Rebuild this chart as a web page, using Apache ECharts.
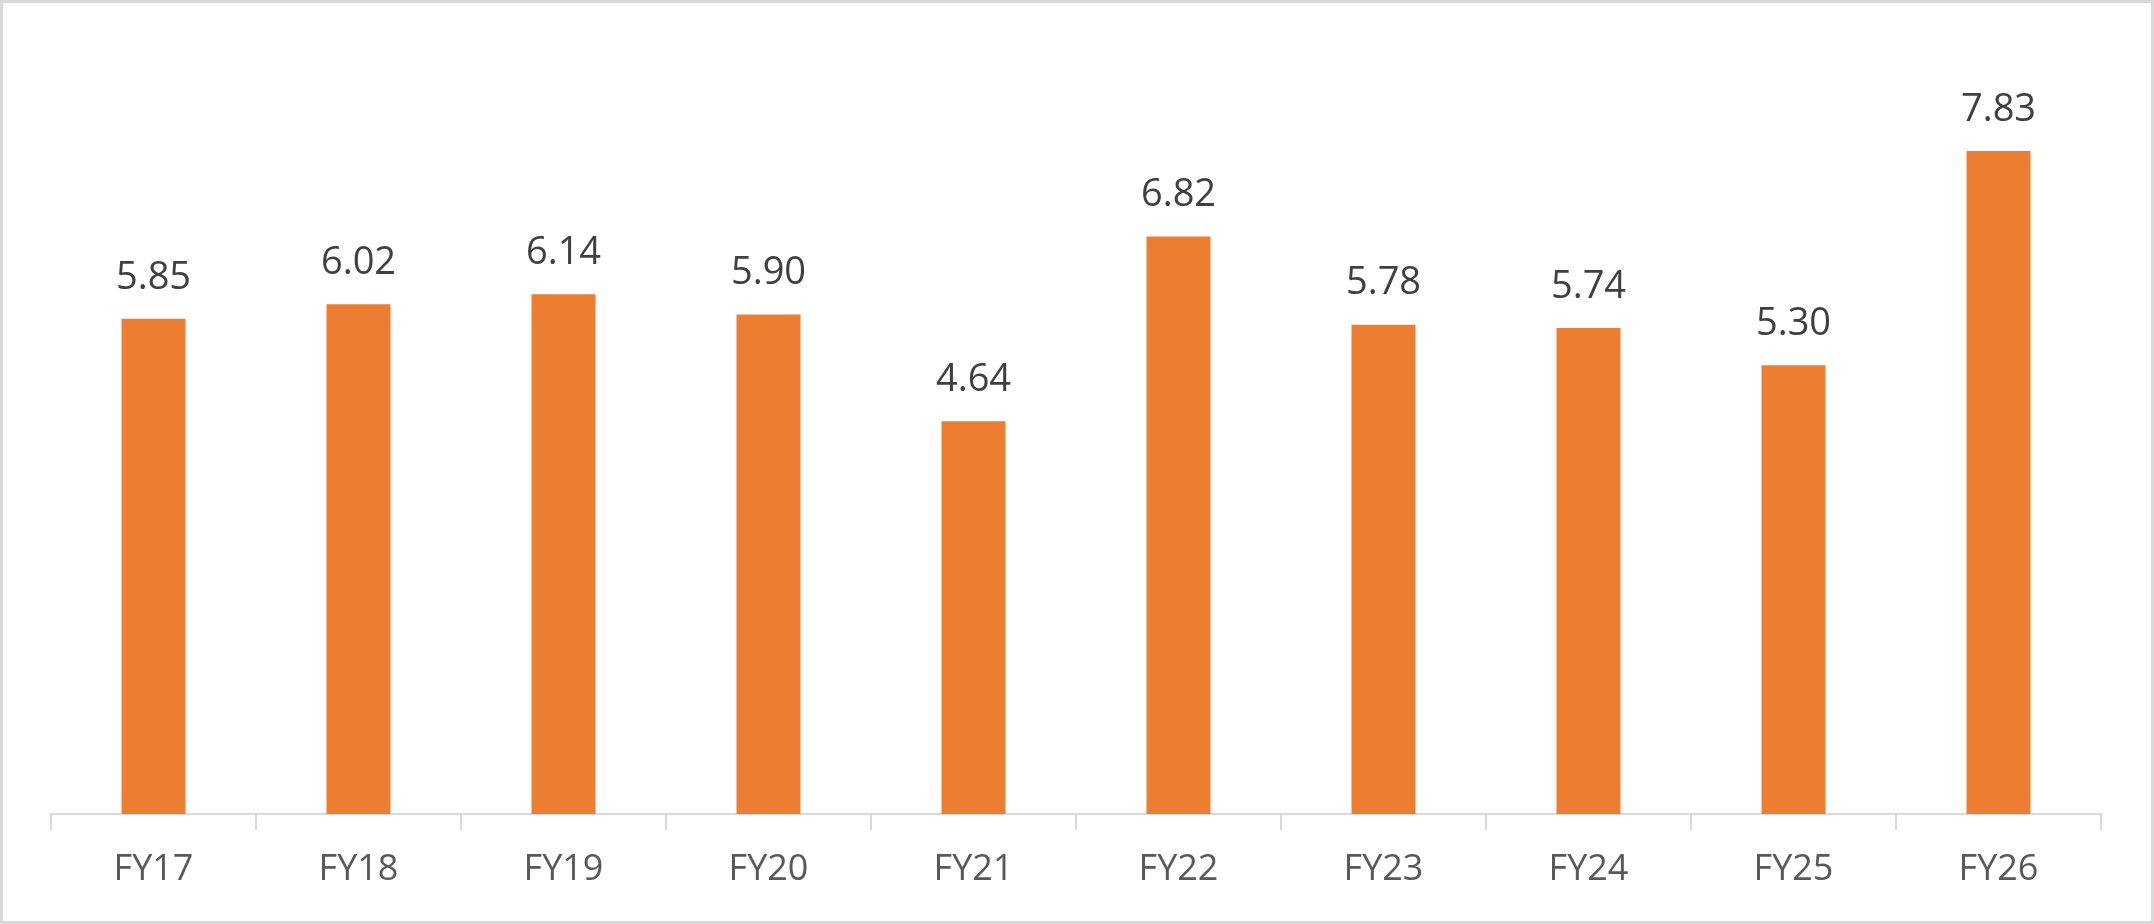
<!DOCTYPE html>
<html>
<head>
	<meta charset="UTF-8">
	<title></title>
	<script type="text/javascript" src="https://cdn.jsdelivr.net/npm/echarts@6/dist/echarts.min.js"></script>
	<style>
		html, body{
			margin:0;
			padding:0;
			background:#fff;
		}
		#bar_chart{
			width:2154px;
			height:924px;
			box-sizing:border-box;
			border:3px solid #d9d9d9;
		}
	</style>
</head>
<body>
<div id="bar_chart"></div>
<script>
	// data
	var categories = ['FY17','FY18','FY19','FY20','FY21','FY22','FY23','FY24','FY25','FY26'];
	var values = [5.85, 6.02, 6.14, 5.90, 4.64, 6.82, 5.78, 5.74, 5.30, 7.83];

	var myChart = echarts.init(document.getElementById('bar_chart'));
	var option = {
		animation: false,
		grid: {
			left: 48,
			right: 50,
			top: 49,
			bottom: 107
		},
		xAxis: {
			type: 'category',
			data: categories,
			axisLine: { lineStyle: { color: '#d9d9d9', width: 2 } },
			axisTick: { show: true, length: 16, lineStyle: { color: '#d9d9d9', width: 2 } },
			axisLabel: {
				color: '#595959',
				fontFamily: 'Open Sans',
				fontSize: 36,
				margin: 38
			}
		},
		yAxis: {
			type: 'value',
			min: 0,
			max: 9,
			show: false,
			splitLine: { show: false }
		},
		series: [{
			type: 'bar',
			data: values,
			barWidth: 64,
			itemStyle: { color: '#ed7d31' },
			label: {
				show: true,
				position: 'top',
				distance: 22,
				color: '#404040',
				fontFamily: 'Open Sans',
				fontSize: 38,
				formatter: function (p) { return p.value.toFixed(2); }
			}
		}]
	};
	myChart.setOption(option);
	window.onresize = function(){
		myChart.resize();
	};
</script>
</body>
</html>
